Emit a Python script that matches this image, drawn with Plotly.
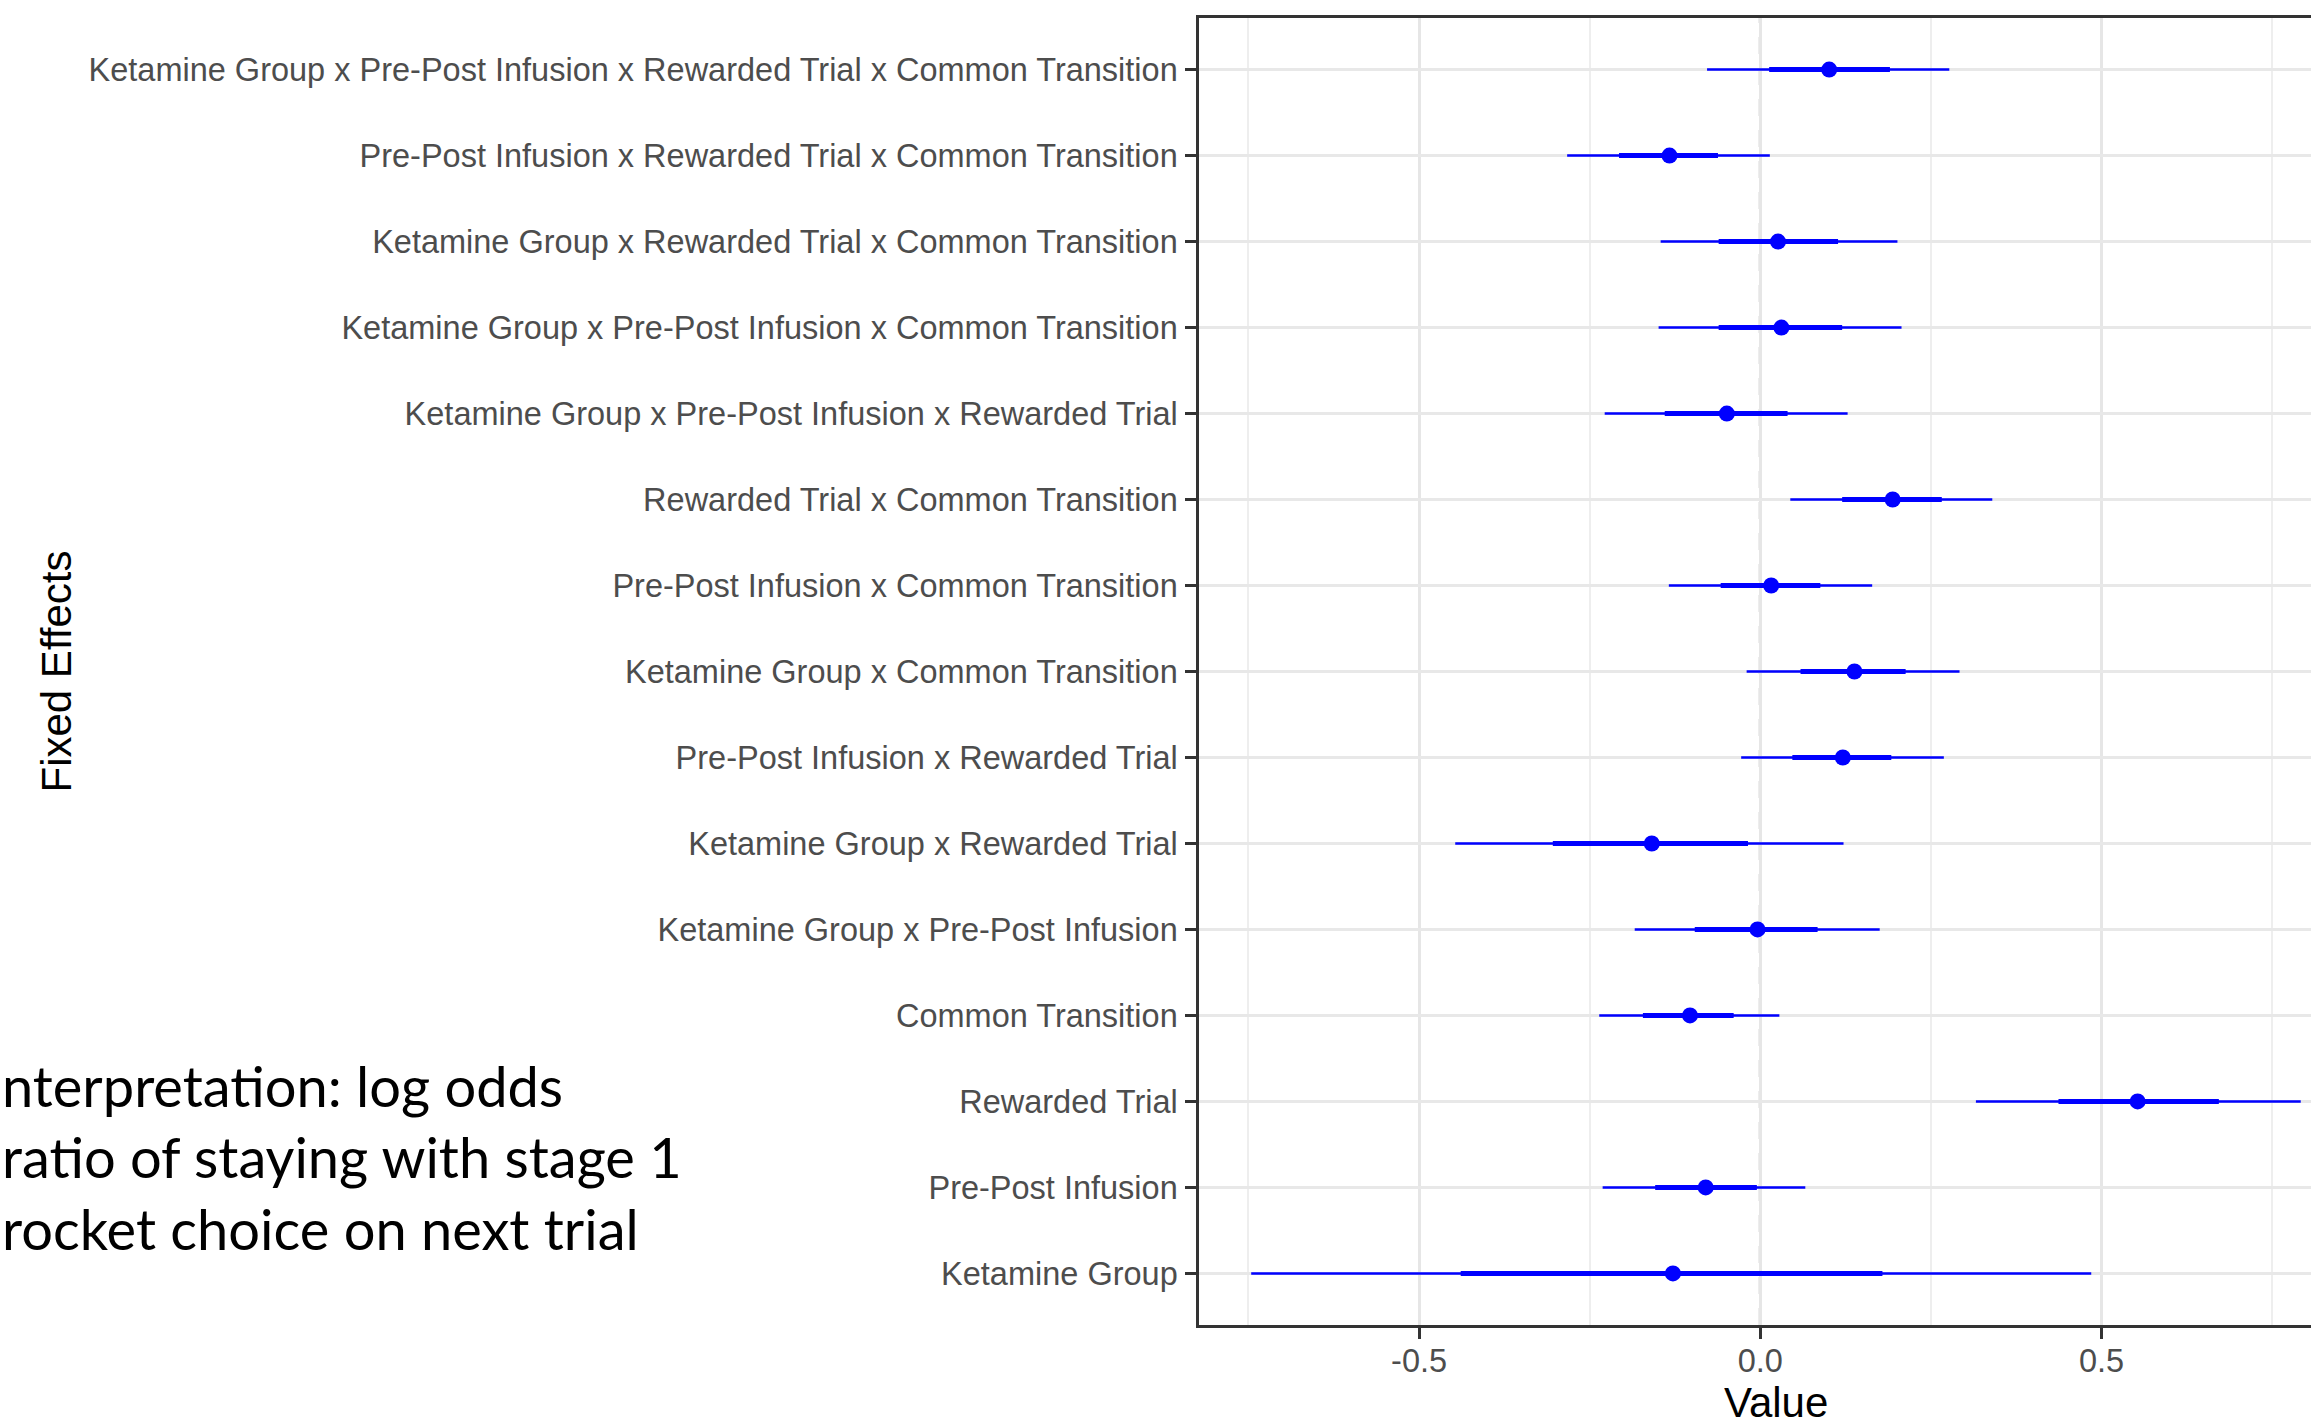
import plotly.graph_objects as go

# ---------------- data (bottom -> top) ----------------
effects = [
    "Ketamine Group",
    "Pre-Post Infusion",
    "Rewarded Trial",
    "Common Transition",
    "Ketamine Group x Pre-Post Infusion",
    "Ketamine Group x Rewarded Trial",
    "Pre-Post Infusion x Rewarded Trial",
    "Ketamine Group x Common Transition",
    "Pre-Post Infusion x Common Transition",
    "Rewarded Trial x Common Transition",
    "Ketamine Group x Pre-Post Infusion x Rewarded Trial",
    "Ketamine Group x Pre-Post Infusion x Common Transition",
    "Ketamine Group x Rewarded Trial x Common Transition",
    "Pre-Post Infusion x Rewarded Trial x Common Transition",
    "Ketamine Group x Pre-Post Infusion x Rewarded Trial x Common Transition",
]
estimate   = [-0.128, -0.080, 0.553, -0.103, -0.004, -0.159, 0.121, 0.138, 0.016, 0.194, -0.049, 0.031, 0.026, -0.133, 0.101]
inner_low  = [-0.439, -0.154, 0.437, -0.172, -0.096, -0.304, 0.047, 0.059, -0.058, 0.120, -0.140, -0.061, -0.061, -0.207, 0.013]
inner_high = [0.179, -0.005, 0.672, -0.039, 0.084, -0.018, 0.192, 0.213, 0.088, 0.266, 0.040, 0.120, 0.114, -0.062, 0.190]
outer_low  = [-0.746, -0.231, 0.316, -0.236, -0.184, -0.447, -0.028, -0.020, -0.134, 0.044, -0.228, -0.149, -0.146, -0.283, -0.078]
outer_high = [0.485, 0.066, 0.792, 0.028, 0.175, 0.122, 0.269, 0.292, 0.164, 0.340, 0.128, 0.207, 0.201, 0.014, 0.277]

x_tick_vals = [-0.5, 0.0, 0.5]
x_tick_text = ["-0.5", "0.0", "0.5"]
x_minor_vals = [-0.75, -0.25, 0.25, 0.75]

# note text as visible in the reference (slide text cropped at the left edge)
note_lines = [
    "nterpretation: log odds",
    "ratio of staying with stage 1",
    "rocket choice on next trial",
]

# ---------------- layout constants ----------------
W, H = 2311, 1425
ML, MR, MT, MB = 1199, 0, 18, 100
PW = W - ML - MR
PH = H - MT - MB


def px_x(px):
    return (px - ML) / PW


def px_y(py):
    return (H - MB - py) / PH


BLUE = "#0000FF"
fig = go.Figure()

ox, oy, ix, iy = [], [], [], []
for e, lo, hi, ilo, ihi in zip(effects, outer_low, outer_high, inner_low, inner_high):
    ox += [lo, hi, None]
    oy += [e, e, None]
    ix += [ilo, ihi, None]
    iy += [e, e, None]

fig.add_trace(go.Scatter(x=ox, y=oy, mode="lines", line=dict(color=BLUE, width=2.5),
                         hoverinfo="skip", showlegend=False))
fig.add_trace(go.Scatter(x=ix, y=iy, mode="lines", line=dict(color=BLUE, width=5),
                         hoverinfo="skip", showlegend=False))
fig.add_trace(go.Scatter(x=estimate, y=effects, mode="markers",
                         marker=dict(color=BLUE, size=16, line=dict(width=0)),
                         showlegend=False))

tickfont = dict(family="Liberation Sans, Arial, sans-serif", size=32.5, color="#4D4D4D")
titlefont = dict(family="Liberation Sans, Arial, sans-serif", size=42, color="black")

fig.update_layout(
    width=W, height=H,
    margin=dict(l=ML, r=MR, t=MT, b=MB, autoexpand=False),
    paper_bgcolor="white", plot_bgcolor="white",
    showlegend=False,
    xaxis=dict(
        range=[-0.8225, -0.8225 + PW / 682.4],
        tickmode="array", tickvals=x_tick_vals, ticktext=x_tick_text,
        showgrid=True, gridcolor="#E6E6E6", gridwidth=2.5,
        minor=dict(tickvals=x_minor_vals, showgrid=True, gridcolor="#EEEEEE", gridwidth=2, ticks=""),
        zeroline=False,
        showline=True, mirror=True, linecolor="#333333", linewidth=2.5,
        ticks="outside", ticklen=11, tickwidth=3, tickcolor="#333333",
        tickfont=tickfont, ticklabelstandoff=-6,
        automargin=False,
    ),
    yaxis=dict(
        type="category", categoryorder="array", categoryarray=effects,
        range=[-0.6, len(effects) - 0.4],
        showgrid=True, gridcolor="#E8E8E8", gridwidth=3,
        zeroline=False,
        showline=True, mirror=False, linecolor="#333333", linewidth=2.5,
        ticks="outside", ticklen=11, tickwidth=3, tickcolor="#333333",
        tickfont=tickfont, ticklabelstandoff=1,
        automargin=False,
    ),
    shapes=[dict(type="line", xref="x", yref="paper", x0=0, x1=0, y0=0, y1=1,
                 line=dict(color="#AFAFAF", width=3, dash="17px,14px"), layer="between")],
)

annots = [
    dict(text="Value", xref="paper", yref="paper", x=px_x(1776), y=px_y(1402),
         xanchor="center", yanchor="middle", showarrow=False, font=titlefont, height=34),
    dict(text="Fixed Effects", xref="paper", yref="paper", x=px_x(56), y=0.5,
         xanchor="center", yanchor="middle", showarrow=False, textangle=-90, font=titlefont),
]
for line, cy in zip(note_lines, [1085, 1156, 1228]):
    annots.append(dict(text=line, xref="paper", yref="paper", x=px_x(0), y=px_y(cy),
                       xanchor="left", yanchor="middle", showarrow=False, align="left",
                       font=dict(family="Lato, Carlito, sans-serif", size=56, color="black")))
fig.update_layout(annotations=annots)

fig.write_html("out.html", include_plotlyjs=True, full_html=True,
               config={"displayModeBar": False},
               post_script="document.body.style.margin='0';document.body.style.overflow='hidden';")
